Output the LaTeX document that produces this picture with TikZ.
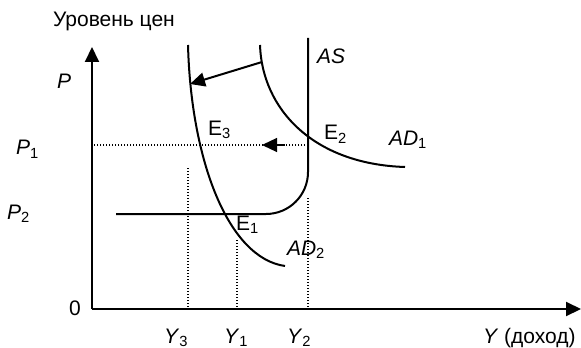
\documentclass[tikz,border=0pt]{standalone}
\usepackage{fontspec}
\setmainfont{Liberation Sans}
\usetikzlibrary{arrows.meta}

\begin{document}
\begin{tikzpicture}[x=0.5pt, y=-0.5pt, line width=1pt,
    every node/.style={font=\fontsize{10.5}{12}\selectfont, inner sep=0pt, anchor=base west},
    guide/.style={line width=0.6pt, dash pattern=on 0.6pt off 0.9pt},
    bigtip/.style={-{Triangle[length=7.5pt, width=7pt]}}]
    \useasboundingbox (0,0) rectangle (581,347);

    \coordinate (O) at (92,309);
    \coordinate (Ptop) at (92,47);
    \coordinate (Yend) at (581,309);
    \draw[bigtip] (O) -- (Ptop);
    \draw[bigtip] (O) -- (Yend);

    \coordinate (ASleft) at (116,214);
    \coordinate (AScorner) at (308,214);
    \coordinate (AStop) at (308,38);
    \draw[rounded corners=21pt] (ASleft) -- (AScorner) -- (AStop);

    \coordinate (ADa) at (260,45);
    \coordinate (ADb) at (405,167);
    \draw (ADa) .. controls (262,108) and (312,164) .. (ADb);

    \coordinate (ADc) at (188,45);
    \coordinate (ADd) at (285,266);
    \draw (ADc) .. controls (191,160) and (228,258) .. (ADd);

    \coordinate (shiftA) at (262,62);
    \coordinate (shiftB) at (190,84);
    \draw[bigtip] (shiftA) -- (shiftB);

    \coordinate (E2) at (308,145);
    \coordinate (P1pt) at (92,145);
    \coordinate (dotA) at (285,145);
    \coordinate (dotB) at (262,145);
    \draw[guide] (E2) -- (P1pt);
    \draw[-{Triangle[length=7.5pt, width=7pt]}, line width=0.6pt] (dotA) -- (dotB);

    \coordinate (Y3top) at (188,168);
    \coordinate (Y3pt) at (188,309);
    \coordinate (Y1top) at (237,240);
    \coordinate (Y1pt) at (237,309);
    \coordinate (Y2top) at (308,198);
    \coordinate (Y2pt) at (308,309);
    \draw[guide] (Y3top) -- (Y3pt);
    \draw[guide] (Y1top) -- (Y1pt);
    \draw[guide] (Y2top) -- (Y2pt);

    \node (title) at (52,27) {Уровень цен};
    \node (Plab) at (56,89) {\textit{P}};
    \node (P1lab) at (15,155) {\textit{P}\textsubscript{1}};
    \node (P2lab) at (6,219) {\textit{P}\textsubscript{2}};
    \node (zero) at (68,315) {0};
    \node (Y3lab) at (163,343) {\textit{Y}\textsubscript{3}};
    \node (Y1lab) at (223,343) {\textit{Y}\textsubscript{1}};
    \node (Y2lab) at (286,343) {\textit{Y}\textsubscript{2}};
    \node (Ylab) at (482,343) {\textit{Y} (доход)};
    \node (E3lab) at (207,135) {E\textsubscript{3}};
    \node (E2lab) at (323,140) {E\textsubscript{2}};
    \node (E1lab) at (235,230) {E\textsubscript{1}};
    \node (ASlab) at (316,64) {\textit{AS}};
    \node (AD1lab) at (388,145) {\textit{AD}\textsubscript{1}};
    \node (AD2lab) at (286,255) {\textit{AD}\textsubscript{2}};
\end{tikzpicture}
\end{document}
